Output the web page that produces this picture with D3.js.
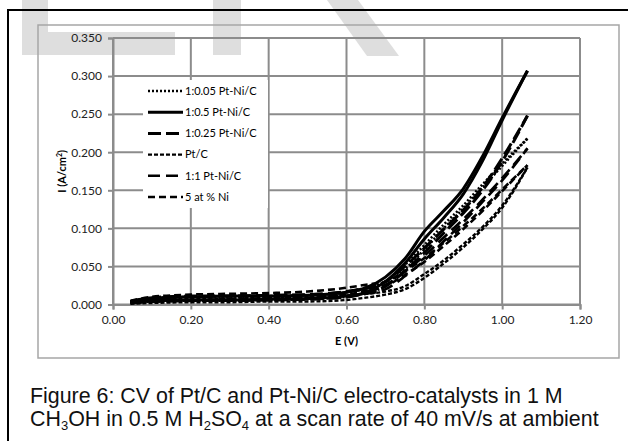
<!DOCTYPE html>
<html lang="en">
<meta charset="utf-8">
<style>
body { margin: 0; background: #fff; }
svg { display: block; }
.tick text { font-family: Lato, "Open Sans", sans-serif; font-size: 12px; fill: #222; }
</style>
<body>
<script src="https://d3js.org/d3.v7.min.js"></script>
<div id="chart"></div>
<script>
// potentials (V) on which every curve is read, forward and reverse sweep
var potentials = [0.045, 0.10, 0.20, 0.30, 0.40, 0.50, 0.60, 0.65, 0.70, 0.75, 0.80, 0.85, 0.90, 0.95, 1.00, 1.065];

// current densities (A/cm2)
var ptNi005Fwd = [0.004, 0.008, 0.010, 0.010, 0.011, 0.012, 0.016, 0.021, 0.030, 0.052, 0.078, 0.105, 0.130, 0.158, 0.185, 0.218];
var ptNi005Rev = [0.002, 0.004, 0.005, 0.005, 0.006, 0.007, 0.010, 0.015, 0.024, 0.046, 0.072, 0.100, 0.126, 0.154, 0.182, 0.218];
var ptNi05Fwd  = [0.004, 0.008, 0.010, 0.011, 0.011, 0.012, 0.016, 0.022, 0.036, 0.060, 0.096, 0.123, 0.152, 0.195, 0.245, 0.307];
var ptNi05Rev  = [0.003, 0.005, 0.006, 0.006, 0.007, 0.008, 0.011, 0.016, 0.030, 0.054, 0.086, 0.114, 0.145, 0.189, 0.242, 0.307];
var ptNi025Fwd = [0.004, 0.009, 0.011, 0.011, 0.012, 0.013, 0.017, 0.022, 0.030, 0.050, 0.074, 0.099, 0.124, 0.154, 0.192, 0.248];
var ptNi025Rev = [0.002, 0.004, 0.005, 0.006, 0.006, 0.007, 0.010, 0.015, 0.024, 0.044, 0.068, 0.094, 0.120, 0.150, 0.188, 0.248];
var ptCFwd     = [0.003, 0.006, 0.008, 0.008, 0.009, 0.010, 0.012, 0.014, 0.017, 0.024, 0.040, 0.058, 0.079, 0.102, 0.130, 0.180];
var ptCRev     = [0.001, 0.002, 0.003, 0.003, 0.004, 0.004, 0.006, 0.009, 0.013, 0.020, 0.035, 0.054, 0.075, 0.099, 0.127, 0.180];
var ptNi11Fwd  = [0.004, 0.008, 0.010, 0.011, 0.012, 0.013, 0.017, 0.021, 0.026, 0.043, 0.064, 0.088, 0.112, 0.138, 0.166, 0.205];
var ptNi11Rev  = [0.002, 0.004, 0.005, 0.005, 0.006, 0.007, 0.010, 0.014, 0.020, 0.037, 0.058, 0.083, 0.108, 0.135, 0.163, 0.205];
var ni5Fwd     = [0.005, 0.010, 0.013, 0.014, 0.015, 0.017, 0.022, 0.026, 0.030, 0.044, 0.061, 0.081, 0.103, 0.126, 0.151, 0.183];
var ni5Rev     = [0.002, 0.005, 0.006, 0.007, 0.008, 0.009, 0.013, 0.018, 0.024, 0.039, 0.056, 0.077, 0.099, 0.123, 0.149, 0.183];

var seriesNames = ["1:0.05 Pt-Ni/C", "1:0.5 Pt-Ni/C", "1:0.25 Pt-Ni/C", "Pt/C", "1:1 Pt-Ni/C", "5 at % Ni"];
var xTicks = [0, 0.2, 0.4, 0.6, 0.8, 1.0, 1.2];
var yTicks = [0, 0.05, 0.10, 0.15, 0.20, 0.25, 0.30, 0.35];

var series = [
  {name: seriesNames[0], fwd: ptNi005Fwd, rev: ptNi005Rev, dash: "2,2",  width: 2.6},
  {name: seriesNames[1], fwd: ptNi05Fwd,  rev: ptNi05Rev,  dash: null,   width: 3},
  {name: seriesNames[2], fwd: ptNi025Fwd, rev: ptNi025Rev, dash: "13,5", width: 3},
  {name: seriesNames[3], fwd: ptCFwd,     rev: ptCRev,     dash: "4,2",  width: 2.4},
  {name: seriesNames[4], fwd: ptNi11Fwd,  rev: ptNi11Rev,  dash: "12,6", width: 2.6},
  {name: seriesNames[5], fwd: ni5Fwd,     rev: ni5Rev,     dash: "7,4",  width: 2.6}
];

var width = 628, height = 441;
var plot = {left: 113, right: 580, top: 38, bottom: 304.5};

var svg = d3.select("#chart").append("svg")
    .attr("width", width)
    .attr("height", height);

// watermark shapes
var wm = svg.append("g").attr("fill", "#dedede");
wm.append("rect").attr("x", 22).attr("y", 0).attr("width", 26).attr("height", 55);
wm.append("rect").attr("x", 22).attr("y", 32).attr("width", 153).attr("height", 23);
wm.append("rect").attr("x", 213).attr("y", 0).attr("width", 28).attr("height", 55);
wm.append("path").attr("d", "M327,0L358,0L399,56L367,56Z");

// outer frame of the figure
svg.append("path")
    .attr("d", "M8," + height + "L8,10L" + width + ",10")
    .attr("fill", "none")
    .attr("stroke", "#000")
    .attr("stroke-width", 2);

// chart area border
svg.append("rect")
    .attr("x", 38).attr("y", 25)
    .attr("width", 581).attr("height", 333)
    .attr("fill", "none")
    .attr("stroke", "#a6a6a6")
    .attr("stroke-width", 1.5);

var x = d3.scaleLinear().domain([0, 1.2]).range([plot.left, plot.right]);
var y = d3.scaleLinear().domain([0, 0.35]).range([plot.bottom, plot.top]);

// gridlines
var grid = svg.append("g").attr("stroke", "#8c8c8c").attr("stroke-width", 2);
grid.selectAll(".v").data(xTicks).enter().append("line")
    .attr("x1", function(d) { return x(d); })
    .attr("x2", function(d) { return x(d); })
    .attr("y1", plot.top).attr("y2", plot.bottom);
grid.selectAll(".h").data(yTicks).enter().append("line")
    .attr("x1", plot.left).attr("x2", plot.right)
    .attr("y1", function(d) { return y(d); })
    .attr("y2", function(d) { return y(d); });

var xAxis = svg.append("g")
    .attr("transform", "translate(0," + plot.bottom + ")")
    .call(d3.axisBottom(x).tickValues(xTicks).tickFormat(d3.format(".2f")).tickSize(5).tickPadding(6));
var yAxis = svg.append("g")
    .attr("transform", "translate(" + plot.left + ",0)")
    .call(d3.axisLeft(y).tickValues(yTicks).tickFormat(d3.format(".3f")).tickSize(5).tickPadding(6));
[xAxis, yAxis].forEach(function(a) {
  a.select(".domain").attr("stroke", "#8c8c8c").attr("stroke-width", 2);
  a.selectAll(".tick line").attr("stroke", "#8c8c8c").attr("stroke-width", 2);
});

// legend box hides the gridlines behind it
svg.append("rect")
    .attr("x", 143).attr("y", 80)
    .attr("width", 125).attr("height", 128)
    .attr("fill", "#fff");

var line = d3.line()
    .x(function(d) { return x(d[0]); })
    .y(function(d) { return y(d[1]); })
    .curve(d3.curveMonotoneX);

var curves = svg.append("g").attr("fill", "none").attr("stroke", "#000");
series.forEach(function(s) {
  [s.fwd, s.rev].forEach(function(vals) {
    curves.append("path")
        .attr("d", line(potentials.map(function(e, i) { return [e, vals[i]]; })))
        .attr("stroke-width", s.width)
        .attr("stroke-dasharray", s.dash);
  });
});

// legend
var legend = svg.append("g").selectAll("g").data(series).enter().append("g")
    .attr("transform", function(d, i) { return "translate(148," + (91 + i * 21.2) + ")"; });
legend.append("line")
    .attr("x1", 0).attr("x2", 35)
    .attr("stroke", "#000")
    .attr("stroke-width", function(d) { return d.width; })
    .attr("stroke-dasharray", function(d) { return d.dash; });
legend.append("text")
    .attr("x", 37).attr("dy", "0.35em")
    .style("font-family", "Lato, 'Open Sans', sans-serif")
    .style("font-size", "11px")
    .text(function(d) { return d.name; });

// axis titles
svg.append("text")
    .attr("x", (plot.left + plot.right) / 2).attr("y", 345)
    .attr("text-anchor", "middle")
    .style("font-family", "Lato, sans-serif").style("font-weight", "bold").style("font-size", "11px")
    .text("E (V)");
var yl = svg.append("text")
    .attr("transform", "translate(66," + (plot.top + plot.bottom) / 2 + ") rotate(-90)")
    .attr("text-anchor", "middle")
    .style("font-family", "Lato, sans-serif").style("font-weight", "bold").style("font-size", "11px");
yl.append("tspan").text("I (A/cm");
yl.append("tspan").attr("dy", -4).style("font-size", "7px").text("2");
yl.append("tspan").attr("dy", 4).text(")");

// caption
var cap = svg.append("text")
    .style("font-family", "'Liberation Sans', Arial, sans-serif")
    .style("font-size", "21.4px")
    .attr("fill", "#111");
cap.append("tspan").attr("x", 30).attr("y", 403)
    .text("Figure 6: CV of Pt/C and Pt-Ni/C electro-catalysts in 1 M");
var parts = [["CH", 0], ["3", 1], ["OH in 0.5 M H", 0], ["2", 1], ["SO", 0], ["4", 1], [" at a scan rate of 40 mV/s at ambient", 0]];
var prevSub = 0;
parts.forEach(function(p) {
  var t = cap.append("tspan").text(p[0]);
  if (p[0] === "CH") t.attr("x", 30).attr("y", 426);
  else t.attr("dy", (p[1] - prevSub) * 4);
  if (p[1]) t.style("font-size", "13px");
  prevSub = p[1];
});
</script>
</body>
</html>
